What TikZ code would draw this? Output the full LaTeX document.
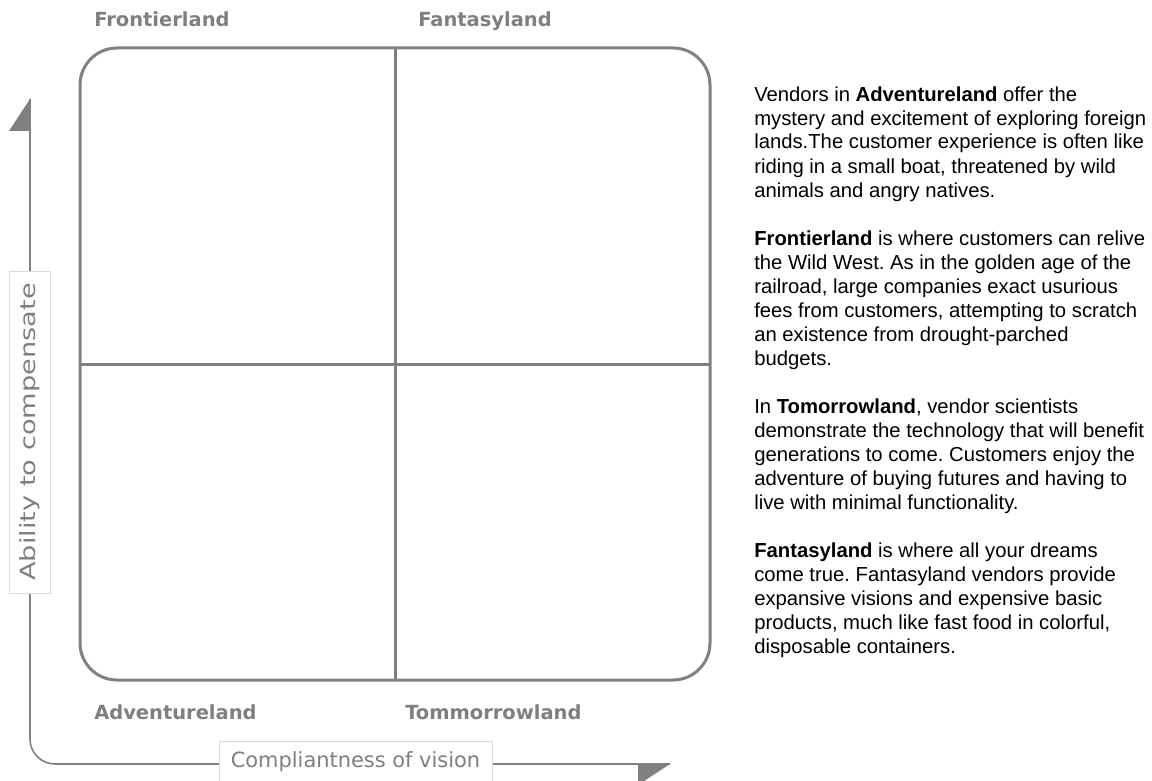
\documentclass[tikz,border=0pt]{standalone}
\usepackage{fontspec}
\setmainfont{Liberation Sans}
\newfontfamily\quadfont{DejaVu Sans}
\definecolor{linegray}{HTML}{808080}
\definecolor{labelgray}{HTML}{7F7F7F}
\definecolor{boxgray}{HTML}{D9D9D9}
\frenchspacing

\begin{document}
\begin{tikzpicture}[x=0.75pt, y=-0.75pt,
	quadlabel/.style={anchor=base west, inner sep=0pt, text=labelgray, font=\quadfont\bfseries\fontsize{14.6}{17}\selectfont},
	axislabel/.style={draw=boxgray, fill=white, inner sep=0pt, text=labelgray, font=\quadfont\fontsize{15.7}{18}\selectfont},
	axisline/.style={draw=linegray, line width=1.2pt, rounded corners=18.75pt},
	divider/.style={draw=linegray, line width=2.25pt},
	notes/.style={anchor=base west, align=left, inner sep=0pt, font=\fontsize{15.2}{18}\selectfont}]
			\useasboundingbox (0,0) rectangle (1152,781);
			% Draw quadrants
				\node[divider, rounded corners=27.75pt, minimum width=472.5pt, minimum height=474pt, inner sep=0pt, outer sep=0pt] (grid) at (395,364) {};
				\draw[divider] (grid.north) -- (grid.south);
				\draw[divider] (grid.west) -- (grid.east);
				\node[quadlabel] (frontier) at (94,27) {Frontierland};
				\node[quadlabel] (fantasy) at (418,27) {Fantasyland};
				\node[quadlabel] (adventure) at (94,719) {Adventureland};
				\node[quadlabel] (tomorrow) at (405,719) {Tommorrowland};
			% Draw axes
				\coordinate (ytip) at (30,99);
				\coordinate (corner) at (30,764);
				\coordinate (xtip) at (670,764);
				\draw[axisline] (ytip) -- (corner) -- (xtip);
				\fill[linegray] (ytip) -- ++(-21,32) -- ++(21,0) -- cycle;
				\fill[linegray] (xtip) -- ++(-32,0) -- ++(0,21) -- cycle;
				\node[axislabel, minimum width=204.75pt, minimum height=31.5pt] (xlabel) at (355.5,762) {Compliantness of vision};
				\node[axislabel, rotate=90, minimum width=241.5pt, minimum height=30.75pt] (ylabel) at (29.5,432) {\scalebox{1.3}[1]{Ability to compensate}};
			% Notes (anchored at the baseline of their last line)
				\node[notes] (adventurenote) at (754,197) {Vendors in \textbf{Adventureland} offer the\\
					mystery and excitement of exploring foreign\\
					lands.The customer experience is often like\\
					riding in a small boat, threatened by wild\\
					animals and angry natives.};
				\node[notes] (frontiernote) at (754,365) {\textbf{Frontierland} is where customers can relive\\
					the Wild West. As in the golden age of the\\
					railroad, large companies exact usurious\\
					fees from customers, attempting to scratch\\
					an existence from drought-parched\\
					budgets.};
				\node[notes] (tomorrownote) at (754,509) {In \textbf{Tomorrowland}, vendor scientists\\
					demonstrate the technology that will benefit\\
					generations to come. Customers enjoy the\\
					adventure of buying futures and having to\\
					live with minimal functionality.};
				\node[notes] (fantasynote) at (754,653) {\textbf{Fantasyland} is where all your dreams\\
					come true. Fantasyland vendors provide\\
					expansive visions and expensive basic\\
					products, much like fast food in colorful,\\
					disposable containers.};
			\end{tikzpicture}
\end{document}
